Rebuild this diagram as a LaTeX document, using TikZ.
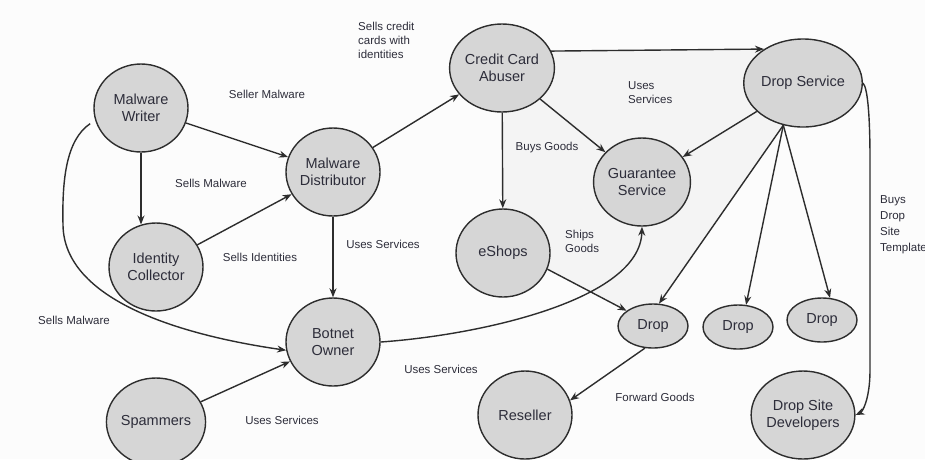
\documentclass[tikz,border=0pt]{standalone}
\usepackage{fontspec}
\setmainfont{Liberation Sans}
\usetikzlibrary{arrows.meta, shapes.geometric, backgrounds}

\definecolor{nodefill}{RGB}{214,214,214}
\definecolor{edgec}{RGB}{45,45,45}
\definecolor{textc}{RGB}{45,45,58}
\definecolor{paper}{RGB}{252,252,252}
\definecolor{shadearea}{RGB}{244,244,244}

\tikzset{
  actor/.style={ellipse, draw=edgec, line width=1.4pt, fill=nodefill,
    inner sep=0pt, minimum width=94pt, minimum height=88pt, align=center,
    text=textc, font=\fontsize{14.5}{16.5}\selectfont},
  dropnode/.style={actor, minimum width=70pt, minimum height=44pt},
  flow/.style={draw=edgec, line width=1.4pt, -{Stealth[length=9pt,width=7pt]}},
  lbl/.style={text=textc, inner sep=0pt, align=left,
    font=\fontsize{11.5}{14}\selectfont}
}

\begin{document}
\begin{tikzpicture}[x=1pt, y=-1pt]
  \useasboundingbox (0,0) rectangle (925,459);

  % actors
  \node[actor] (mw)  at (141,108) {Malware\\Writer};
  \node[actor] (md)  at (333,172) {Malware\\Distributor};
  \node[actor] (cca) at (502,68)  {Credit Card\\Abuser};
  \node[actor] (ds)  at (803,83)  {Drop Service};
  \node[actor] (gs)  at (642,182) {Guarantee\\Service};
  \node[actor] (ic)  at (156,267) {Identity\\Collector};
  \node[actor] (bo)  at (333,342) {Botnet\\Owner};
  \node[actor] (sp)  at (156,422) {Spammers};
  \node[actor] (es)  at (503,253) {eShops};
  \node[dropnode] (d1) at (653,326) {Drop};
  \node[dropnode] (d2) at (738,327) {Drop};
  \node[dropnode] (d3) at (822,320) {Drop};
  \node[actor] (rs)  at (525,415) {Reseller};
  \node[actor] (dsd) at (803,415) {Drop Site\\Developers};

  % paper and the faintly shaded middle area
  \begin{pgfonlayer}{background}
    \fill[paper] (0,0) rectangle (925,459);
    \fill[shadearea] (cca.center) -- (cca.19) -- (ds.139) -- (ds.245)
      -- (d1.75) -- (d1.150) -- (es.-20) -- (es.center) -- cycle;
  \end{pgfonlayer}

  % relations
  \draw[flow] (mw) -- (md);
  \draw[flow] (mw.south) -- (mw.south |- ic.109);
  \draw[flow] (ic) -- (md);
  \draw[flow] (md) -- (cca);
  \draw[flow] (md) -- (bo);
  \draw[flow, shorten <=6pt] (mw.195) .. controls (66,140) and (62,180) .. (63,225)
        .. controls (64,300) and (180,335) .. (bo.190);
  \draw[flow] (sp) -- (bo);
  \draw[flow] (bo.east) .. controls (480,335) and (640,300) .. (gs.south);
  \draw[flow] (cca.19) -- (ds.139);
  \draw[flow] (cca) -- (gs);
  \draw[flow] (cca) -- (es);
  \draw[flow] (ds) -- (gs);
  \draw[flow] (ds.245) -- (d1.75);
  \draw[flow] (ds.245) -- (d2.70);
  \draw[flow] (ds.245) -- (d3.70);
  \draw[flow] (ds.east) .. controls (868,88) and (870,120) .. (870,160)
        -- (870,370) .. controls (870,400) and (862,412) .. (dsd.east);
  \draw[flow] (es.-20) -- (d1.150);
  \draw[flow] (d1.250) -- (rs.18);

  % labels
  \node[lbl] (l1)  at (267,94)  {Seller Malware};
  \node[lbl] (l2)  at (211,183) {Sells Malware};
  \node[lbl] (l3)  at (260,257) {Sells Identities};
  \node[lbl] (l4)  at (383,244) {Uses Services};
  \node[lbl] (l5)  at (74,320)  {Sells Malware};
  \node[lbl] (l6)  at (282,420) {Uses Services};
  \node[lbl] (l7)  at (441,369) {Uses Services};
  \node[lbl, anchor=north west] (l8) at (358,22) {Sells credit\\cards with\\identities};
  \node[lbl, anchor=north west] (l9) at (628,81) {Uses\\Services};
  \node[lbl] (l10) at (547,148) {Buys Goods};
  \node[lbl, anchor=north west] (l11) at (565,230) {Ships\\Goods};
  \node[lbl] (l12) at (655,397) {Forward Goods};
  \node[lbl, anchor=north west, font=\fontsize{11.5}{16}\selectfont] (l13) at (880,195)
        {Buys\\Drop\\Site\\Templates};
\end{tikzpicture}
\end{document}
